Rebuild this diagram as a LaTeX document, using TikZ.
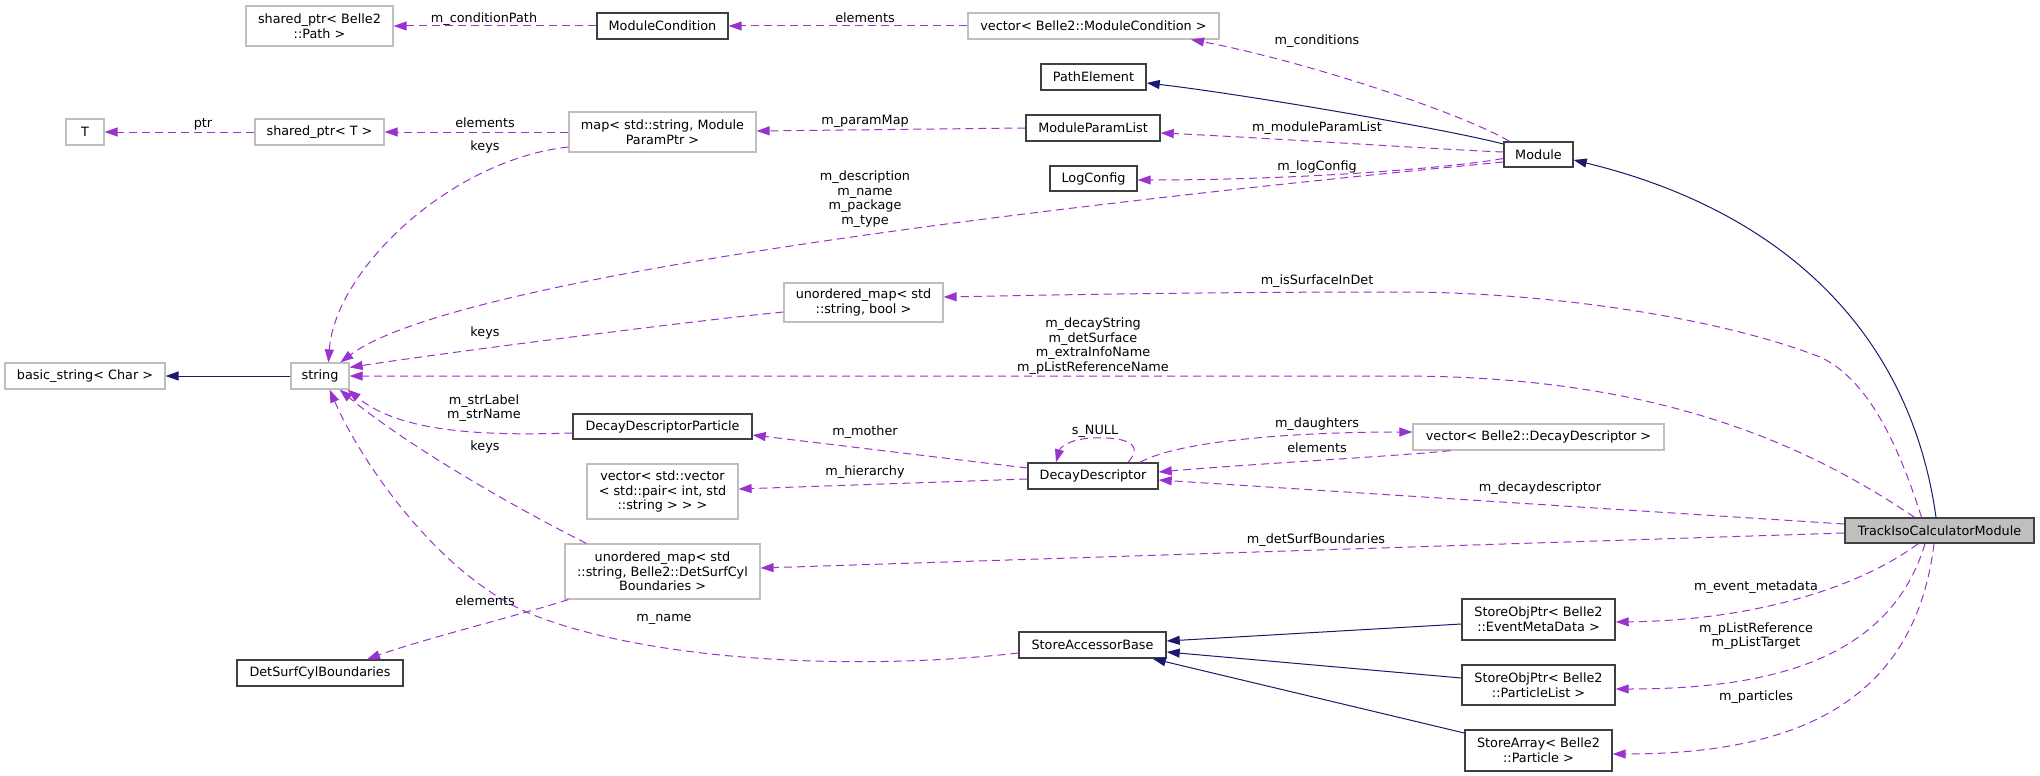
\documentclass[tikz,border=0pt]{standalone}
\usepackage{fontspec}
\setmainfont{DejaVu Sans}
\usetikzlibrary{arrows.meta}
\definecolor{purp}{HTML}{9A32CD}
\definecolor{navyb}{HTML}{191970}
\definecolor{boxgray}{HTML}{BFBFBF}
\definecolor{boxdark}{HTML}{404040}
\begin{document}
\begin{tikzpicture}[x=1pt,y=-1pt,
  every node/.style={font=\fontsize{12.8}{14.7}\selectfont, inner sep=0pt, align=center},
  docbox/.style={draw=boxdark, line width=1.4pt, fill=white},
  undoc/.style={draw=boxgray, line width=1.2pt, fill=white},
  mainbox/.style={draw=boxdark, line width=1.4pt, fill=boxgray},
  dep/.style={draw=purp, line width=1pt, dash pattern=on 8pt off 5pt, -{Triangle[length=13pt,width=9pt,fill=purp]}},
  inh/.style={draw=navyb, line width=1pt, -{Triangle[length=13pt,width=9pt,fill=navyb]}}]
\useasboundingbox[fill=white] (0,0) rectangle (2040,776);
% nodes
\node[undoc, minimum width=147pt, minimum height=40pt] (sharedpath) at (319.5,26) {shared\_ptr< Belle2\\::Path >};
\node[docbox, minimum width=131pt, minimum height=26pt] (modcond) at (662.5,26) {ModuleCondition};
\node[undoc, minimum width=251pt, minimum height=26pt] (vecmc) at (1093.5,26) {vector< Belle2::ModuleCondition >};
\node[undoc, minimum width=38pt, minimum height=26pt] (T) at (85,132) {T};
\node[undoc, minimum width=129pt, minimum height=26pt] (sharedT) at (319.5,132) {shared\_ptr< T >};
\node[undoc, minimum width=187pt, minimum height=40pt] (map) at (662.5,132) {map< std::string, Module\\ParamPtr >};
\node[docbox, minimum width=105pt, minimum height=26pt] (pathel) at (1093.5,77) {PathElement};
\node[docbox, minimum width=134pt, minimum height=26pt] (mpl) at (1093,128) {ModuleParamList};
\node[docbox, minimum width=87pt, minimum height=25pt] (logc) at (1093.5,178.5) {LogConfig};
\node[docbox, minimum width=69pt, minimum height=25pt] (module) at (1538.5,154.5) {Module};
\node[undoc, minimum width=160pt, minimum height=26pt] (bstr) at (85,376) {basic\_string< Char >};
\node[undoc, minimum width=58pt, minimum height=26pt] (str) at (320,376) {string};
\node[undoc, minimum width=159pt, minimum height=39pt] (uomb) at (863.5,302.5) {unordered\_map< std\\::string, bool >};
\node[docbox, minimum width=179pt, minimum height=25pt] (ddp) at (662.5,426.5) {DecayDescriptorParticle};
\node[undoc, minimum width=151pt, minimum height=55pt] (vvec) at (662.5,491.5) {vector< std::vector\\< std::pair< int, std\\::string > > >};
\node[docbox, minimum width=130pt, minimum height=26pt] (dd) at (1093,476) {DecayDescriptor};
\node[undoc, minimum width=251pt, minimum height=26pt] (vecdd) at (1538.5,437) {vector< Belle2::DecayDescriptor >};
\node[mainbox, minimum width=189pt, minimum height=25pt] (track) at (1939.5,530.5) {TrackIsoCalculatorModule};
\node[undoc, minimum width=195pt, minimum height=55pt] (uomds) at (662.5,571.5) {unordered\_map< std\\::string, Belle2::DetSurfCyl\\Boundaries >};
\node[docbox, minimum width=166pt, minimum height=26pt] (dscb) at (320,673) {DetSurfCylBoundaries};
\node[docbox, minimum width=147pt, minimum height=26pt] (sab) at (1092.5,645) {StoreAccessorBase};
\node[docbox, minimum width=153pt, minimum height=41pt] (emd) at (1538.5,619.5) {StoreObjPtr< Belle2\\::EventMetaData >};
\node[docbox, minimum width=153pt, minimum height=40pt] (plist) at (1538.5,685) {StoreObjPtr< Belle2\\::ParticleList >};
\node[docbox, minimum width=147pt, minimum height=41pt] (sarr) at (1538.5,750.5) {StoreArray< Belle2\\::Particle >};
% edges
\draw[dep] (modcond.west) -- (sharedpath.east);
\draw[dep] (vecmc.west) -- (modcond.east);
\draw[dep] ([xshift=6pt]module.north west) .. controls (1460,112) and (1300,60) .. ([xshift=97.5pt]vecmc.south);
\draw[inh] ([yshift=10.5pt]module.west) .. controls (1450,130) and (1250,95) .. ([yshift=-6pt]pathel.east);
\draw[dep] ([yshift=2.5pt]module.west) .. controls (1450,150) and (1250,137) .. ([yshift=-5pt]mpl.east);
\draw[dep] (mpl.west) -- ([yshift=1pt]map.east);
\draw[dep] (map.west) -- (sharedT.east);
\draw[dep] (sharedT.west) -- (T.east);
\draw[dep] ([yshift=-15pt]map.west) .. controls (450,160) and (335,270) .. ([xshift=38pt]str.north west);
\draw[dep] ([yshift=-4pt]module.west) .. controls (1450,168) and (1300,180) .. ([yshift=-1.5pt]logc.east);
\draw[dep] ([yshift=-7.5pt]module.west) .. controls (1000,210) and (450,280) .. ([xshift=50pt]str.north west);
\draw[dep] ([yshift=-9.5pt]uomb.west) .. controls (700,320) and (450,352) .. ([yshift=-5pt]str.north east);
\draw[dep] ([xshift=-25pt]track.north) .. controls (1800,440) and (1650,376) .. (1400,376) -- (str.east);
\draw[dep] ([xshift=-18pt]track.north) .. controls (1900,450) and (1870,380) .. (1820,357) .. controls (1720,318) and (1550,292) .. (1400,292) .. controls (1200,292) and (1050,295) .. ([yshift=5.5pt]uomb.east);
\draw[dep] ([yshift=-6.5pt]ddp.west) .. controls (480,436) and (400,432) .. ([xshift=-2pt]str.south east);
\draw[dep] ([xshift=22pt]uomds.north west) .. controls (500,500) and (400,440) .. ([xshift=-10pt]str.south east);
\draw[dep] ([yshift=-8pt]sab.west) .. controls (850,672) and (650,660) .. (536,616) .. controls (440,579) and (360,460) .. ([xshift=-20pt]str.south east);
\draw[dep] ([xshift=4pt]uomds.south west) .. controls (520,615) and (420,640) .. ([xshift=47pt]dscb.north);
\draw[dep] ([yshift=8pt]dd.west) -- ([yshift=-8.5pt]ddp.east);
\draw[dep] ([yshift=-3pt]dd.west) -- ([yshift=2.5pt]vvec.east);
\draw[dep] ([xshift=35pt]dd.north) .. controls (1148,440) and (1115,437) .. (1093,438) .. controls (1068,439) and (1060,448) .. ([xshift=-37pt]dd.north);
\draw[dep] ([xshift=47pt]dd.north) .. controls (1180,440) and (1300,432) .. ([yshift=5pt]vecdd.west);
\draw[dep] ([xshift=38pt]vecdd.south west) .. controls (1400,456) and (1250,464) .. ([yshift=4pt]dd.east);
\draw[dep] ([yshift=6.5pt]track.west) -- ([yshift=-4pt]dd.east);
\draw[dep] ([yshift=-2.5pt]track.west) -- ([yshift=3.5pt]uomds.east);
\draw[dep] ([xshift=-21.5pt]track.south) .. controls (1870,580) and (1770,620) .. ([yshift=-2.5pt]emd.east);
\draw[dep] ([xshift=-14.5pt]track.south) .. controls (1890,660) and (1770,689) .. ([yshift=-4pt]plist.east);
\draw[dep] ([xshift=-5.5pt]track.south) .. controls (1915,700) and (1800,754) .. ([yshift=-3.5pt]sarr.east);
\draw[inh] ([xshift=-3.5pt]track.north) .. controls (1910,330) and (1780,210) .. ([yshift=-5.5pt]module.east);
\draw[inh] ([yshift=-4.5pt]emd.west) -- ([yshift=4pt]sab.east);
\draw[inh] ([yshift=7pt]plist.west) -- ([yshift=-7pt]sab.east);
\draw[inh] ([yshift=17.5pt]sarr.west) -- ([xshift=-14pt]sab.south east);
\draw[inh] (str.west) -- (bstr.east);
% labels
\node (l_condpath) at (484,19) {m\_conditionPath};
\node (l_elem1) at (865,18) {elements};
\node (l_cond) at (1317,41) {m\_conditions};
\node (l_ptr) at (203,124) {ptr};
\node (l_elem2) at (485,123) {elements};
\node (l_keys1) at (485,147) {keys};
\node (l_pmap) at (865,121) {m\_paramMap};
\node (l_mpl) at (1317,128) {m\_moduleParamList};
\node (l_log) at (1317,167) {m\_logConfig};
\node (l_desc) at (865,199) {m\_description\\m\_name\\m\_package\\m\_type};
\node (l_surf) at (1317,281) {m\_isSurfaceInDet};
\node (l_keys2) at (485,333) {keys};
\node (l_decay) at (1093,346) {m\_decayString\\m\_detSurface\\m\_extraInfoName\\m\_pListReferenceName};
\node (l_strl) at (484,408) {m\_strLabel\\m\_strName};
\node (l_keys3) at (485,447) {keys};
\node (l_mother) at (865,432) {m\_mother};
\node (l_snull) at (1095,431) {s\_NULL};
\node (l_dau) at (1317,424) {m\_daughters};
\node (l_elem3) at (1317,448) {elements};
\node (l_hier) at (865,472) {m\_hierarchy};
\node (l_dd) at (1540,488) {m\_decaydescriptor};
\node (l_dsb) at (1316,540) {m\_detSurfBoundaries};
\node (l_emd) at (1756,587) {m\_event\_metadata};
\node (l_elem4) at (485,601) {elements};
\node (l_name) at (664,619) {m\_name};
\node (l_plist) at (1756,636) {m\_pListReference\\m\_pListTarget};
\node (l_part) at (1756,697) {m\_particles};
\end{tikzpicture}
\end{document}
